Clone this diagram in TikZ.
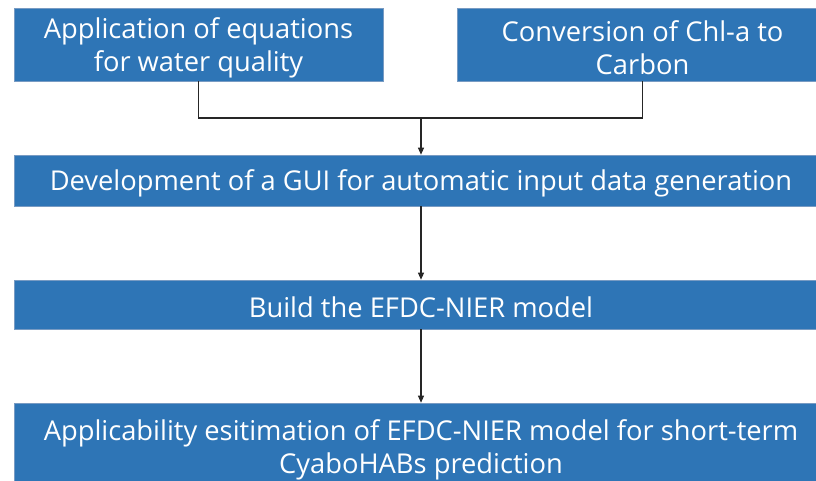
\documentclass[tikz,border=0pt]{standalone}
\usepackage{fontspec}
\setmainfont{Open Sans}
\usetikzlibrary{arrows.meta}
\definecolor{boxblue}{RGB}{46,117,182}
\definecolor{boxedge}{RGB}{120,155,195}
\begin{document}
\begin{tikzpicture}[x=1pt,y=-1pt,
  box/.style={fill=boxblue, draw=boxedge, line width=0.6pt, inner sep=0pt},
  lbl/.style={text=white, align=center, inner sep=0pt, yshift=-3pt,
    font=\fontsize{27.3}{33}\selectfont},
  conn/.style={line width=1.1pt, draw=black!85},
  arr/.style={conn, -{Triangle[length=7pt,width=6pt]}}]
\useasboundingbox (0,0) rectangle (816,481);
\clip (0,0) rectangle (816,481);
\node[box, minimum width=369pt, minimum height=73pt,
  label={[lbl]center:{Application of equations\\for water quality}}] (b1) at (198.5,44.5) {};
\node[box, minimum width=371pt, minimum height=73pt,
  label={[lbl]center:{Conversion of Chl-a to\\Carbon}}] (b2) at (642.5,44.5) {};
\node[box, minimum width=814pt, minimum height=51pt,
  label={[lbl]center:{Development of a GUI for automatic input data generation}}] (b3) at (421,180.5) {};
\node[box, minimum width=814pt, minimum height=49pt,
  label={[lbl]center:{Build the EFDC-NIER model}}] (b4) at (421,304.5) {};
\node[box, minimum width=814pt, minimum height=87pt,
  label={[lbl]center:{Applicability esitimation of EFDC-NIER model for short-term\\CyaboHABs prediction}}] (b5) at (421,446.5) {};
\coordinate (j) at (421,118);
\draw[conn] (b1.south) |- (j) -| (b2.south);
\draw[arr] (j) -- (b3.north);
\draw[arr] (b3.south) -- (b4.north);
\draw[arr] (b4.south) -- (b5.north);
\end{tikzpicture}
\end{document}
